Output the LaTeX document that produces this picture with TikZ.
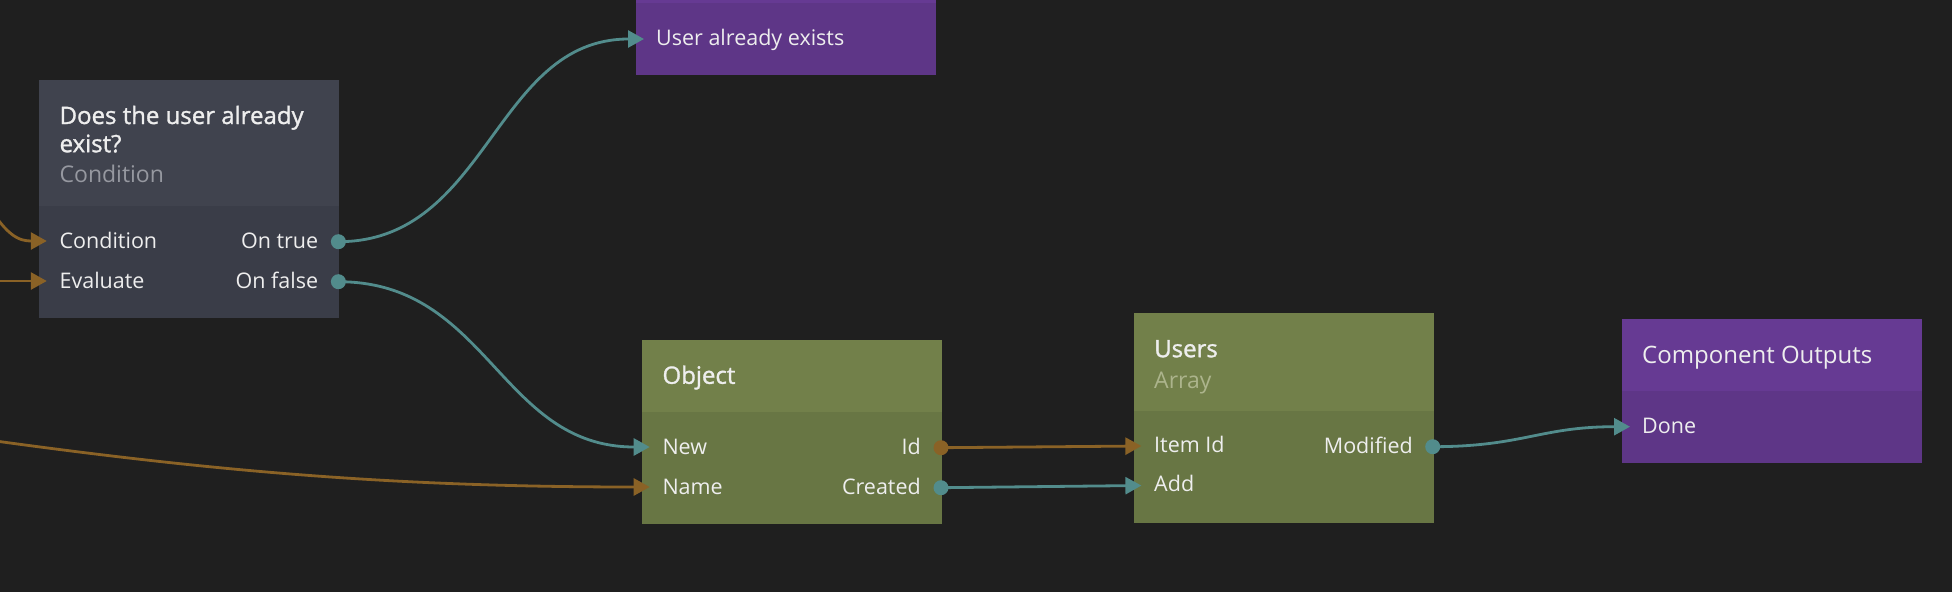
\documentclass[tikz,border=0pt]{standalone}
\usepackage{fontspec}
\setmainfont{Open Sans}
\newfontfamily\titlefont{Open Sans}[FakeBold=1.3]
\usetikzlibrary{arrows.meta}
\definecolor{bg}{RGB}{31,31,31}
\definecolor{grayh}{RGB}{64,67,78}
\definecolor{grayb}{RGB}{58,61,72}
\definecolor{greenh}{RGB}{114,128,74}
\definecolor{greenb}{RGB}{104,118,68}
\definecolor{purph}{RGB}{102,58,147}
\definecolor{purpb}{RGB}{94,54,135}
\definecolor{tealc}{RGB}{82,140,140}
\definecolor{orangec}{RGB}{138,98,38}
\definecolor{txt}{RGB}{238,238,238}
\definecolor{subgray}{RGB}{150,152,160}
\definecolor{subgreen}{RGB}{172,180,140}
\tikzset{
  boxbody/.style={draw=none, anchor=north west, inner sep=0pt, minimum width=300pt},
  title/.style={anchor=base west, inner sep=0pt, text=txt, font=\titlefont\fontsize{24}{28}\selectfont},
  subtitle/.style={anchor=base west, inner sep=0pt, font=\fontsize{23}{28}\selectfont},
  plaintitle/.style={anchor=base west, inner sep=0pt, text=txt, font=\fontsize{24}{28}\selectfont},
  port/.style={anchor=base west, inner sep=0pt, text=txt, font=\fontsize{21.5}{26}\selectfont},
  rport/.style={port, anchor=base east},
  tconn/.style={draw=tealc, line width=2.8pt, -{Triangle[length=16pt,width=17pt]}},
  oconn/.style={draw=orangec, line width=2.8pt, -{Triangle[length=16pt,width=17pt]}},
  tdot/.style={fill=tealc},
  odot/.style={fill=orangec}
}
\begin{document}
\begin{tikzpicture}[x=1pt,y=-1pt]
\useasboundingbox (0,0) rectangle (1952,592);
\fill[bg] (0,0) rectangle (1952,592);

% Condition node
\node[boxbody, fill=grayb, minimum height=237.7pt] (cond) at (38.8,80) {};
\node[boxbody, fill=grayh, minimum height=126pt] (condh) at (38.8,80) {};
\node[title] (condt1) at (59.4,124) {Does the user already};
\node[title] (condt2) at (59.4,152.2) {exist?};
\node[subtitle, text=subgray] (condst) at (59.4,182.5) {Condition};
\node[port] (condp1) at (59.4,248.3) {Condition};
\node[port] (condp2) at (59.4,288) {Evaluate};
\node[rport] (condp3) at (318.4,248.3) {On true};
\node[rport] (condp4) at (318.4,288) {On false};
\coordinate (cond-in1) at (46.8,241);
\coordinate (cond-in2) at (46.8,281);
\coordinate (cond-ot) at (338.4,241.7);
\coordinate (cond-of) at (338.4,281.7);

% User already exists (component outputs, header cut off)
\node[boxbody, fill=purpb, minimum height=115pt] (ua) at (636,-40) {};
\node[boxbody, fill=purph, minimum height=43pt] (uah) at (636,-40) {};
\node[port] (uap) at (656,45.5) {User already exists};
\coordinate (ua-in) at (644,39);

% Object node
\node[boxbody, fill=greenb, minimum height=183.7pt] (obj) at (641.7,340) {};
\node[boxbody, fill=greenh, minimum height=71.7pt] (objh) at (641.7,340) {};
\node[title] (objt) at (662.3,383.8) {Object};
\node[port] (objp1) at (662.3,454) {New};
\node[port] (objp2) at (662.3,494) {Name};
\node[rport] (objp3) at (921,454) {Id};
\node[rport] (objp4) at (921,494) {Created};
\coordinate (obj-in1) at (649.7,447);
\coordinate (obj-in2) at (649.7,487);
\coordinate (obj-oid) at (941,447.7);
\coordinate (obj-ocr) at (941,487.7);

% Users node
\node[boxbody, fill=greenb, minimum height=209.6pt] (usr) at (1133.4,312.7) {};
\node[boxbody, fill=greenh, minimum height=98pt] (usrh) at (1133.4,312.7) {};
\node[title] (usrt) at (1154,357.2) {Users};
\node[subtitle, text=subgreen] (usrst) at (1154,388) {Array};
\node[port] (usrp1) at (1154,452) {Item Id};
\node[port] (usrp2) at (1154,491.5) {Add};
\node[rport] (usrp3) at (1413,453) {Modified};
\coordinate (usr-in1) at (1141.4,446);
\coordinate (usr-in2) at (1141.4,485.5);
\coordinate (usr-om) at (1432.7,446.7);

% Component Outputs node
\node[boxbody, fill=purpb, minimum height=143.7pt] (co) at (1622,319) {};
\node[boxbody, fill=purph, minimum height=71.7pt] (coh) at (1622,319) {};
\node[plaintitle] (cot) at (1642,363.8) {Component Outputs};
\node[port] (cop) at (1642,433.8) {Done};
\coordinate (co-in) at (1630,426.7);

% free ends off the left edge
\coordinate (src1) at (-20,190);
\coordinate (src2) at (-5,281);
\coordinate (src3) at (-150,420);

% connectors
\draw[oconn] (src1) .. controls (5,238) and (20,241) .. (cond-in1);
\draw[oconn] (src2) -- (cond-in2);
\draw[oconn] (src3) .. controls (150,465) and (350,487) .. (obj-in2);
\draw[tconn] (cond-ot) .. controls +(150,0) and +(-150,0) .. (ua-in);
\draw[tconn] (cond-of) .. controls +(150,0) and +(-150,0) .. (obj-in1);
\draw[oconn] (obj-oid) -- (usr-in1);
\draw[tconn] (obj-ocr) -- (usr-in2);
\draw[tconn] (usr-om) .. controls +(90,0) and +(-90,0) .. (co-in);

% port dots
\fill[tdot] (cond-ot) circle[radius=7.5pt];
\fill[tdot] (cond-of) circle[radius=7.5pt];
\fill[odot] (obj-oid) circle[radius=7.5pt];
\fill[tdot] (obj-ocr) circle[radius=7.5pt];
\fill[tdot] (usr-om) circle[radius=7.5pt];
\end{tikzpicture}
\end{document}
